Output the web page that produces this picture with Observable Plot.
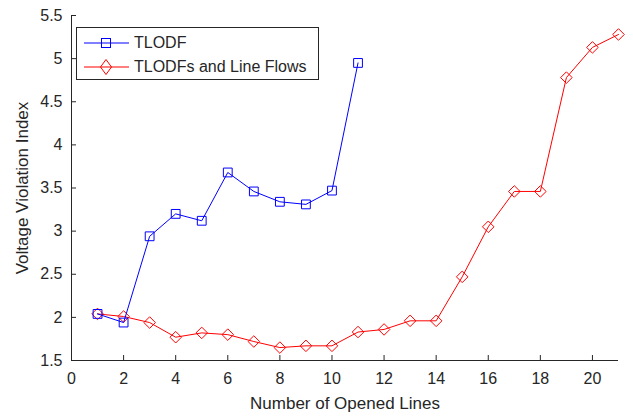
<!DOCTYPE html>
<html>
<head>
<meta charset="utf-8">
<script src="https://cdn.jsdelivr.net/npm/d3@7"></script>
<script src="https://cdn.jsdelivr.net/npm/@observablehq/plot@0.6"></script>
<style>
  html, body { margin: 0; padding: 0; background: #fff; }
  #wrap { position: relative; width: 633px; height: 416px; font-family: "Liberation Sans", Arial, sans-serif; }
  #wrap svg.plot text { font-family: "Liberation Sans", Arial, sans-serif; }
  #legend { position: absolute; left: 76px; top: 27px; width: 243px; height: 53px; border: 1px solid #262626; background: #fff; box-sizing: border-box; font-size: 16px; color: #262626; }
  .row { position: absolute; left: 0; height: 20px; display: flex; align-items: center; }
  .row svg { display: block; }
  .row span { margin-left: 4px; }
</style>
</head>
<body>
<div id="wrap"></div>
<script>
const xOpened = [1,2,3,4,5,6,7,8,9,10,11,12,13,14,15,16,17,18,19,20,21];
const tlodf = [2.04,1.94,2.94,3.20,3.12,3.68,3.46,3.34,3.31,3.47,4.95];
const tlodfLineFlows = [2.04,2.01,1.94,1.77,1.82,1.80,1.72,1.65,1.67,1.67,1.83,1.86,1.96,1.96,2.47,3.05,3.46,3.46,4.78,5.13,5.28];
const xTicks = [0,2,4,6,8,10,12,14,16,18,20];
const yTicks = [1.5,2,2.5,3,3.5,4,4.5,5,5.5];
const seriesNames = ["TLODF", "TLODFs and Line Flows"];

const blue = tlodf.map((v, i) => ({x: xOpened[i], y: v}));
const red = tlodfLineFlows.map((v, i) => ({x: xOpened[i], y: v}));

const W = 633, H = 416;
const mL = 71, mR = 15, mT = 15, mB = 56;
const pw = W - mL - mR, ph = H - mT - mB;
const axisColor = "#262626";

const chart = Plot.plot({
  width: W, height: H,
  marginLeft: mL, marginRight: mR, marginTop: mT, marginBottom: mB,
  style: {fontFamily: "'Liberation Sans', Arial, sans-serif", fontSize: "16px", color: axisColor, background: "#fff"},
  x: {domain: [0, 21], ticks: xTicks},
  y: {domain: [1.5, 5.5], ticks: yTicks},
  marks: [
    Plot.axisX({ticks: xTicks, tickSize: 0, tickPadding: 12, label: null, fontSize: 16, tickFormat: d => String(d)}),
    Plot.axisY({ticks: yTicks, tickSize: 0, tickPadding: 9, label: null, fontSize: 16, tickFormat: d => String(d)}),
    Plot.tickX(xTicks.filter(d => d > 0), {x: d => d, stroke: axisColor, insetTop: ph - 5}),
    Plot.tickY(yTicks.filter(d => d > 1.5), {y: d => d, stroke: axisColor, insetRight: pw - 5}),
    Plot.ruleY([1.5], {stroke: axisColor}),
    Plot.ruleX([0], {stroke: axisColor}),
    Plot.text(["Number of Opened Lines"], {frameAnchor: "bottom", dy: 48, fontSize: 17, fill: axisColor, textAnchor: "middle"}),
    Plot.text(["Voltage Violation Index"], {frameAnchor: "left", dx: -49, rotate: -90, fontSize: 17, fill: axisColor, textAnchor: "middle"}),
    Plot.line(red, {x: "x", y: "y", stroke: "#ff0000", strokeWidth: 1}),
    Plot.dot(red, {x: "x", y: "y", symbol: "diamond2", r: 5.2, stroke: "#ff0000", strokeWidth: 1, fill: "none"}),
    Plot.line(blue, {x: "x", y: "y", stroke: "#0000ff", strokeWidth: 1}),
    Plot.dot(blue, {x: "x", y: "y", symbol: "square2", r: 5.6, stroke: "#0000ff", strokeWidth: 1, fill: "none"})
  ]
});
const wrap = document.getElementById("wrap");
wrap.appendChild(chart);

const legend = document.createElement("div");
legend.id = "legend";
const glyphs = [
  `<svg width="53" height="20"><line x1="7" y1="10" x2="52" y2="10" stroke="#0000ff" stroke-width="1.2"/><rect x="24.5" y="5.5" width="9" height="9" fill="none" stroke="#0000ff"/></svg>`,
  `<svg width="53" height="20"><line x1="7" y1="10" x2="52" y2="10" stroke="#ff0000" stroke-width="1.2"/><path d="M29,2.5L34.5,10L29,17.5L23.5,10Z" fill="none" stroke="#ff0000"/></svg>`
];
seriesNames.forEach((name, i) => {
  const row = document.createElement("div");
  row.className = "row";
  row.style.top = (5 + i * 24) + "px";
  row.innerHTML = glyphs[i] + `<span>${name}</span>`;
  legend.appendChild(row);
});
wrap.appendChild(legend);
</script>
</body>
</html>
